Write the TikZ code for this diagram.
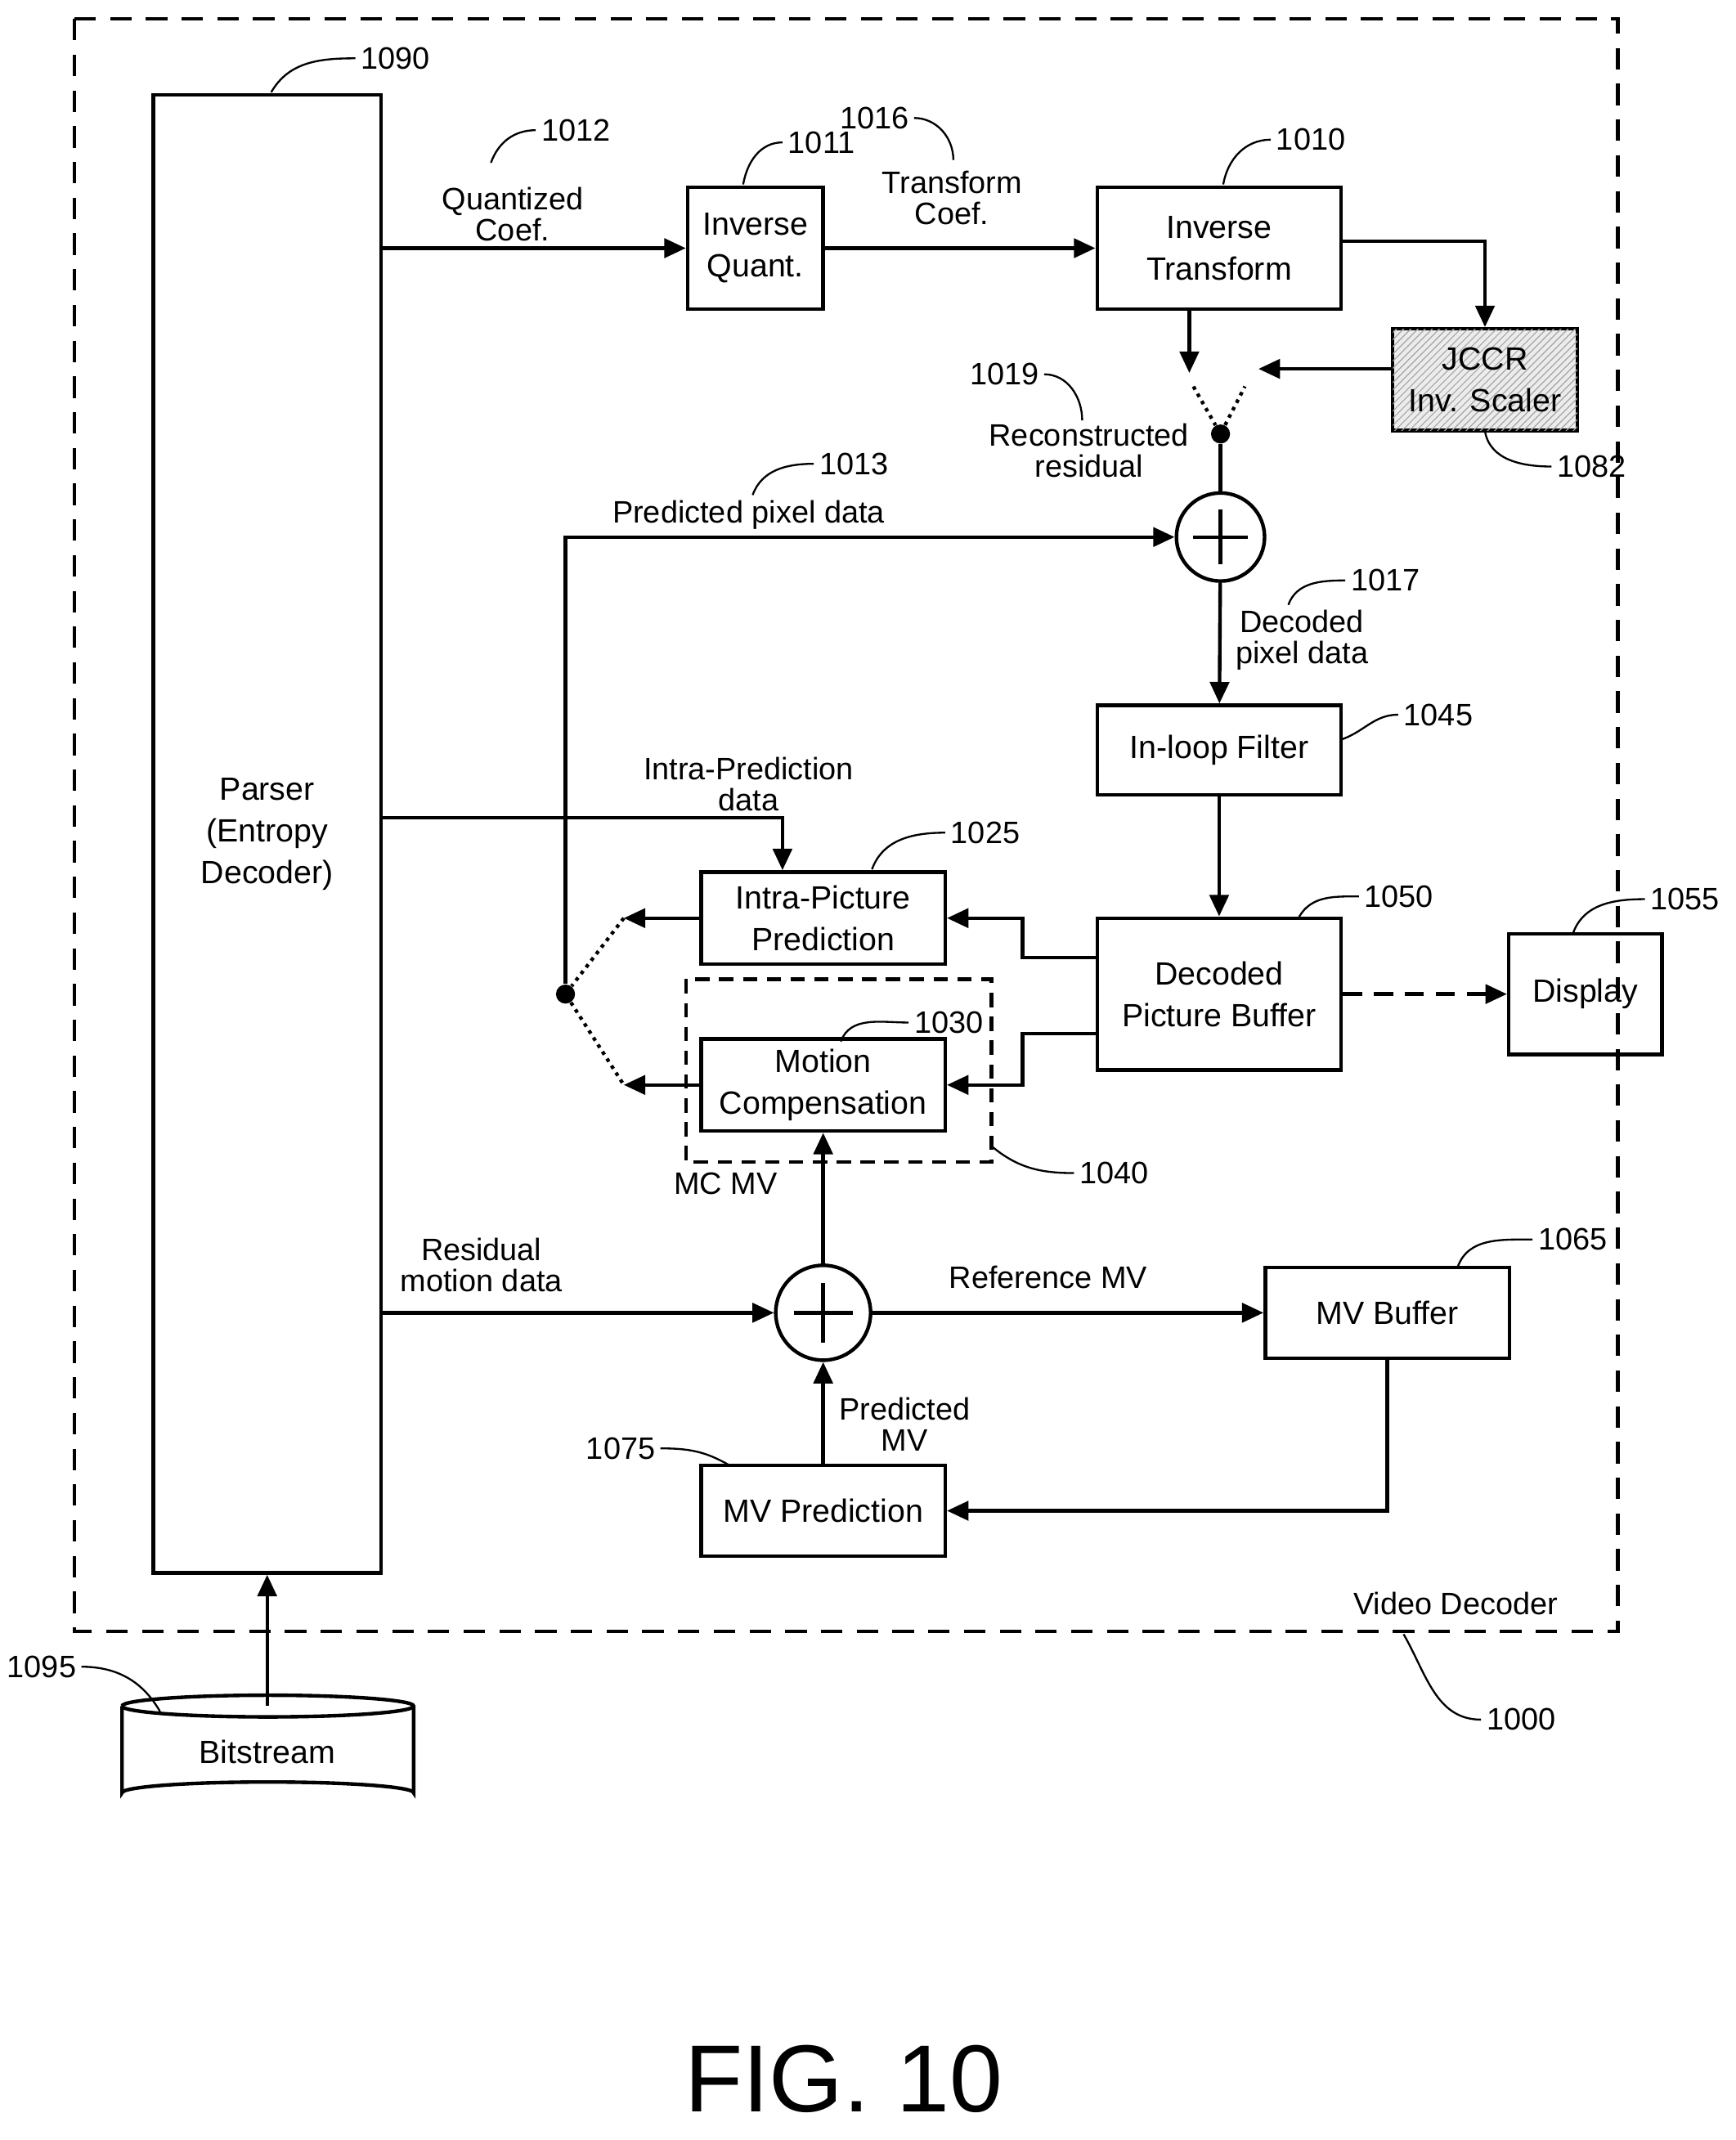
\documentclass[tikz,border=0pt]{standalone}
\usepackage{fontspec}
\setmainfont{Liberation Sans}
\usetikzlibrary{calc,arrows.meta,patterns}

\tikzset{
  blk/.style={draw,line width=1.5pt,align=center,font=\fontsize{13.5}{17.5}\selectfont},
  sum/.style={draw,circle,line width=1.5pt,minimum size=1.3cm},
  arr/.style={line width=1.5pt,-{Triangle[length=9pt,width=8pt]}},
  wire/.style={line width=1.5pt},
  lbl/.style={align=center,font=\fontsize{13}{13}\selectfont},
  num/.style={font=\fontsize{13}{14}\selectfont,anchor=west,inner sep=2pt},
  lead/.style={line width=0.8pt},
  dot/.style={circle,fill,inner sep=0pt,minimum size=8pt},
}

\begin{document}
\begin{tikzpicture}[x=0.02cm,y=-0.02cm]
  \useasboundingbox (0,0) rectangle (1280,1578);
  % outer frame
  \draw [line width=1.5pt,dash pattern=on 9pt off 6pt] (55,14) rectangle (1193,1203);
  \node [lbl,anchor=south east] (vd) at (1155,1197) {Video Decoder};

  % blocks
  \node [blk,minimum width=3.36cm,minimum height=21.8cm] (parser) at (197,615) {Parser\\(Entropy\\Decoder)};
  \node [blk,minimum width=2cm,minimum height=1.8cm] (iq) at (557,183) {Inverse\\Quant.};
  \node [blk,minimum width=3.6cm,minimum height=1.8cm] (it) at (899,183) {Inverse\\Transform};
  \node [blk,minimum width=2.72cm,minimum height=1.5cm,fill=gray!15,
         postaction={pattern=north east lines,pattern color=gray!70}] (jccr) at (1095,280) {JCCR\\Inv. Scaler};
  \node [blk,minimum width=3.6cm,minimum height=1.32cm] (ilf) at (899,553) {In-loop Filter};
  \node [blk,minimum width=3.6cm,minimum height=2.24cm] (dpb) at (899,733) {Decoded\\Picture Buffer};
  \node [blk,minimum width=3.6cm,minimum height=1.36cm] (intra) at (607,677) {Intra-Picture\\Prediction};
  \node [blk,minimum width=3.6cm,minimum height=1.36cm] (mc) at (607,800) {Motion\\Compensation};
  \draw [line width=1.5pt,dash pattern=on 6pt off 4pt] (506,722) rectangle (731,857);
  \node [blk,minimum width=2.26cm,minimum height=1.78cm] (disp) at (1169,733) {Display};
  \node [blk,minimum width=3.6cm,minimum height=1.34cm] (mvb) at (1023,968) {MV Buffer};
  \node [blk,minimum width=3.6cm,minimum height=1.34cm] (mvp) at (607,1114) {MV Prediction};
  \node [sum] (s1) at (900,396) {};
  \node [sum,minimum size=1.4cm] (s2) at (607,968) {};
  \foreach \s in {s1,s2} {
    \draw [wire] ($(\s.north)!0.2!(\s.south)$) -- ($(\s.north)!0.8!(\s.south)$);
    \draw [wire] ($(\s.west)!0.2!(\s.east)$) -- ($(\s.west)!0.8!(\s.east)$);
  }

  % bitstream
  \draw [wire] (90,1258) -- (90,1322) arc[start angle=180,end angle=360,x radius=107.5,y radius=8]
    -- (305,1258) arc[start angle=0,end angle=-180,x radius=107.5,y radius=8];
  \draw [wire] (90,1258) arc[start angle=180,end angle=0,x radius=107.5,y radius=8];
  \node [blk,draw=none] (bits) at (197,1292) {Bitstream};
  \coordinate (btop) at (197,1258);
  \draw [arr] (btop) -- (parser.south);

  % coordinates
  \coordinate (pq) at (281,183);
  \coordinate (itr) at (989,178);
  \coordinate (itd) at (877,275);
  \coordinate (jl) at (928,272);
  \node [dot] (rd) at (900,320) {};
  \coordinate (pl) at (880,285);
  \coordinate (pr) at (918,285);
  \node [dot] (pd) at (417,733) {};
  \coordinate (ia) at (460,677);
  \coordinate (ma) at (460,800);
  \coordinate (pip) at (281,603);
  \coordinate (pres) at (281,968);
  \coordinate (db1) at (754,706);
  \coordinate (db2) at (754,762);

  % connectors
  \draw [arr] (pq) -- (iq.west |- pq);
  \draw [arr] (iq) -- (it);
  \draw [arr] (itr) -| (jccr.north);
  \draw [arr] (it.south -| itd) -- (itd);
  \draw [arr] (jccr.west |- jl) -- (jl);
  \draw [line width=1.5pt,dotted] (pl) -- (rd) -- (pr);
  \draw [wire] (rd) -- (s1);
  \draw [arr] (pd) -- (pd |- s1) -- (s1.west);
  \draw [arr] (s1) -- (ilf);
  \draw [arr] (ilf) -- (dpb);
  \draw [arr] (dpb.west |- db1) -- (db1) |- (intra.east);
  \draw [arr] (dpb.west |- db2) -- (db2) |- (mc.east);
  \draw [arr] (intra) -- (ia);
  \draw [arr] (mc) -- (ma);
  \draw [line width=1.5pt,dotted] (ia) -- (pd) -- (ma);
  \draw [arr] (pip) -| (intra.north -| 577,0);
  \draw [arr,dash pattern=on 8pt off 5pt] (dpb) -- (disp);
  \draw [arr] (pres) -- (s2);
  \draw [arr] (s2) -- (mc);
  \draw [arr] (s2) -- (mvb);
  \draw [arr] (mvb.south) |- (mvp.east);
  \draw [arr] (mvp) -- (s2);

  % labels
  \node [lbl] (lq) at (378,158) {Quantized\\Coef.};
  \node [lbl] (lt) at (702,146) {Transform\\Coef.};
  \node [lbl] (lr) at (803,332) {Reconstructed\\residual};
  \node [lbl] (lp) at (552,380) {Predicted pixel data};
  \node [lbl] (ld) at (960,472) {Decoded\\pixel data};
  \node [lbl] (li) at (552,578) {Intra-Prediction\\data};
  \node [lbl] (lm) at (535,873) {MC MV};
  \node [lbl] (lres) at (355,933) {Residual\\motion data};
  \node [lbl] (lref) at (773,942) {Reference MV};
  \node [lbl] (lpm) at (667,1050) {Predicted\\MV};
  \node [font=\fontsize{40}{44}\selectfont] (fig) at (622,1533) {FIG. 10};

  % reference numerals
  \draw [lead] (200,68) to[out=60,in=180] (262,43) node[num] {1090};
  \draw [lead] (362,120) to[out=70,in=180] (395,96) node[num] {1012};
  \draw [lead] (548,136) to[out=80,in=180] (577,105) node[num] {1011};
  \draw [lead] (674,87) to[out=0,in=90] (703,118);
  \node [num,anchor=east] at (674,87) {1016};
  \draw [lead] (902,136) to[out=80,in=180] (937,103) node[num] {1010};
  \draw [lead] (1095,318) to[out=-80,in=180] (1144,344) node[num] {1082};
  \draw [lead] (770,276) to[out=0,in=90] (798,310);
  \node [num,anchor=east] at (770,276) {1019};
  \draw [lead] (555,365) to[out=70,in=180] (600,342) node[num] {1013};
  \draw [lead] (950,446) to[out=70,in=180] (992,428) node[num] {1017};
  \draw [lead] (990,545) to[out=20,in=180] (1031,527) node[num] {1045};
  \draw [lead] (643,641) to[out=70,in=180] (697,614) node[num] {1025};
  \draw [lead] (958,676) to[out=60,in=180] (1002,661) node[num] {1050};
  \draw [lead] (1160,688) to[out=70,in=180] (1213,663) node[num] {1055};
  \draw [lead] (620,768) to[out=70,in=180] (670,754) node[num] {1030};
  \draw [lead] (731,845) to[out=-40,in=180] (792,865) node[num] {1040};
  \draw [lead] (1075,934) to[out=70,in=180] (1130,914) node[num] {1065};
  \draw [lead] (487,1068) to[out=0,in=150] (537,1080);
  \node [num,anchor=east] at (487,1068) {1075};
  \draw [lead] (60,1229) to[out=0,in=120] (118,1262);
  \node [num,anchor=east] at (60,1229) {1095};
  \draw [lead] (1035,1205) to[out=-60,in=180] (1092,1268) node[num] {1000};
\end{tikzpicture}
\end{document}
